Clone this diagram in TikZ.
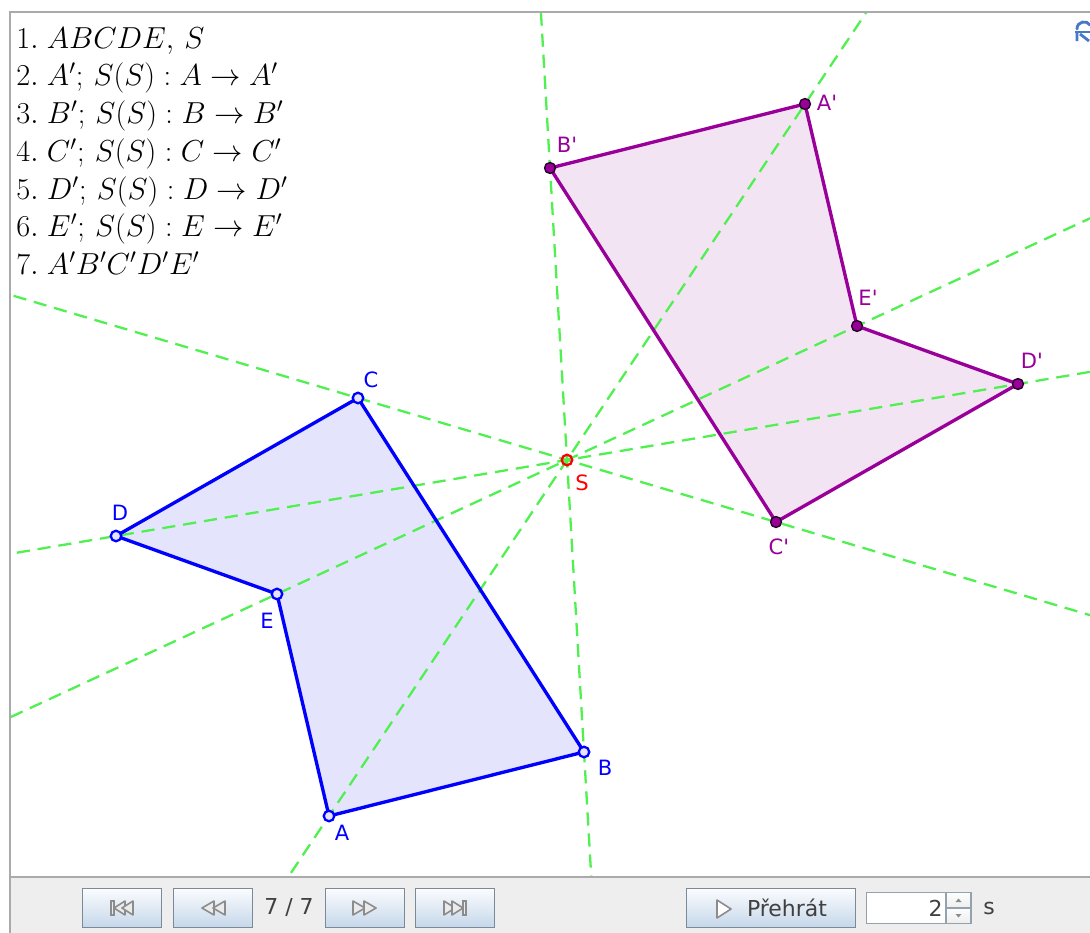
\documentclass[tikz,border=0pt]{standalone}
\usepackage{amsmath,amssymb}
\usepackage{fontspec}
\usepackage{tikz}
\usetikzlibrary{positioning,calc,shadings}
\usepackage{xcolor}
\newfontfamily\ggbfont{DejaVu Sans}
\definecolor{ggbblue}{RGB}{0,0,255}
\definecolor{ggbbluefill}{RGB}{228,228,252}
\definecolor{ggbpurple}{RGB}{153,0,153}
\definecolor{ggbpurplefill}{RGB}{243,228,243}
\definecolor{ggbgreen}{RGB}{80,240,80}
\definecolor{ggbred}{RGB}{255,0,0}
\definecolor{framegray}{RGB}{170,170,170}
\definecolor{barbg}{RGB}{238,238,238}
\definecolor{btnborder}{RGB}{122,138,153}
\definecolor{btntop}{RGB}{252,253,254}
\definecolor{btnbottom}{RGB}{196,214,234}
\definecolor{icongray}{RGB}{140,140,140}
\definecolor{iconfill}{RGB}{235,235,235}
\definecolor{resetblue}{RGB}{70,120,200}

\begin{document}
\begin{tikzpicture}[x=0.02cm,y=-0.02cm,
  ray/.style={ggbgreen,line width=1.3pt,dash pattern=on 7.5pt off 4.5pt},
  orig/.style={draw=ggbblue,line width=1.9pt,line join=round},
  imgpoly/.style={draw=ggbpurple,line width=1.9pt,line join=round},
  opt/.style={circle,draw=ggbblue,fill=ggbbluefill,line width=1.3pt,inner sep=0pt,minimum size=6pt},
  ipt/.style={circle,draw=black!75!ggbpurple,fill=ggbpurple,line width=0.8pt,inner sep=0pt,minimum size=6.2pt},
  cpt/.style={circle,draw=ggbred,line width=1.3pt,inner sep=0pt,minimum size=6pt},
  lbl/.style={font=\ggbfont\fontsize{12}{14}\selectfont,inner sep=0pt},
  steps/.style={align=left,inner sep=0pt,font=\fontsize{16.7}{21.5}\selectfont},
  btn/.style={draw=btnborder,top color=btntop,bottom color=btnbottom,line width=0.6pt,
    minimum width=45.4pt,minimum height=22.7pt,inner sep=0pt},
  field/.style={draw=btnborder!80,fill=white,line width=0.6pt,
    minimum width=45.4pt,minimum height=17.6pt,inner sep=0pt},
  spin/.style={draw=btnborder!80,top color=btntop,bottom color=barbg,line width=0.6pt,
    minimum width=14.2pt,minimum height=8.8pt,inner sep=0pt},
  bartext/.style={font=\ggbfont\fontsize{12.5}{14}\selectfont,text=black!75,inner sep=0pt},
  icon/.style={draw=icongray,fill=iconfill,line width=0.9pt,line join=round}]

\useasboundingbox (0,0) rectangle (1090,933);
\fill[white] (0,0) rectangle (1090,933);

% vertices and centre
\coordinate (A) at (329,816);
\coordinate (B) at (584,752);
\coordinate (C) at (358,398);
\coordinate (D) at (116,536);
\coordinate (E) at (277,594);
\coordinate (S) at (567,460);
\coordinate (Ap) at (805,104);
\coordinate (Bp) at (550,168);
\coordinate (Cp) at (776,522);
\coordinate (Dp) at (1018,384);
\coordinate (Ep) at (857,326);

% fills
\fill[ggbbluefill] (A) -- (B) -- (C) -- (D) -- (E) -- cycle;
\fill[ggbpurplefill] (Ap) -- (Bp) -- (Cp) -- (Dp) -- (Ep) -- cycle;

% lines X X'
\begin{scope}
\clip (10,12) rectangle (1090,877);
\draw[ray] ($(A)!-2!(Ap)$) -- ($(A)!3!(Ap)$);
\draw[ray] ($(B)!-2!(Bp)$) -- ($(B)!3!(Bp)$);
\draw[ray] ($(C)!-3!(Cp)$) -- ($(C)!4!(Cp)$);
\draw[ray] ($(D)!-2!(Dp)$) -- ($(D)!3!(Dp)$);
\draw[ray] ($(E)!-3!(Ep)$) -- ($(E)!4!(Ep)$);
\end{scope}

% polygons
\draw[orig] (A) -- (B) -- (C) -- (D) -- (E) -- cycle;
\draw[imgpoly] (Ap) -- (Bp) -- (Cp) -- (Dp) -- (Ep) -- cycle;

% points
\node[opt] (pA) at (A) {};
\node[opt] (pB) at (B) {};
\node[opt] (pC) at (C) {};
\node[opt] (pD) at (D) {};
\node[opt] (pE) at (E) {};
\node[cpt] (pS) at (S) {};
\node[ipt] (pAp) at (Ap) {};
\node[ipt] (pBp) at (Bp) {};
\node[ipt] (pCp) at (Cp) {};
\node[ipt] (pDp) at (Dp) {};
\node[ipt] (pEp) at (Ep) {};

% labels
\node[lbl,text=ggbblue] (lA) at (342,833) {A};
\node[lbl,text=ggbblue] (lB) at (605,768) {B};
\node[lbl,text=ggbblue] (lC) at (371,380) {C};
\node[lbl,text=ggbblue] (lD) at (120,513) {D};
\node[lbl,text=ggbblue] (lE) at (267,621) {E};
\node[lbl,text=ggbred] (lS) at (582,483) {S};
\node[lbl,text=ggbpurple] (lAp) at (827,103) {A'};
\node[lbl,text=ggbpurple] (lBp) at (567,145) {B'};
\node[lbl,text=ggbpurple] (lCp) at (779,547) {C'};
\node[lbl,text=ggbpurple] (lDp) at (1032,361) {D'};
\node[lbl,text=ggbpurple] (lEp) at (868,298) {E'};

% construction steps
\node[steps,anchor=north west] (steps) at (16,27) {%
$1.\;ABCDE,\,S$\\
$2.\;A';\,S(S):A\rightarrow A'$\\
$3.\;B';\,S(S):B\rightarrow B'$\\
$4.\;C';\,S(S):C\rightarrow C'$\\
$5.\;D';\,S(S):D\rightarrow D'$\\
$6.\;E';\,S(S):E\rightarrow E'$\\
$7.\;A'B'C'D'E'$};

% reset icon
\draw[resetblue,line width=1.6pt,line cap=round] (1077,29) .. controls (1077,21) and (1087,20) .. (1090,25);
\draw[resetblue,line width=1.4pt] (1075,32) -- (1090,32);
\draw[resetblue,line width=1.6pt] (1077,32) -- (1077,41) (1080,34) -- (1089,41);

% frame and toolbar
\fill[barbg] (10,877) rectangle (1090,933);
\draw[framegray,line width=0.6pt] (10,877) -- (1090,877);
\draw[framegray,line width=0.6pt] (10,933) -- (10,12) -- (1090,12);

\node[btn] (first) at (122,908) {};
\node[btn] (prev) at (213,908) {};
\node[bartext] (count) at (289,908) {7 / 7};
\node[btn] (next) at (365,908) {};
\node[btn] (last) at (455,908) {};
\node[btn,minimum width=96.4pt] (play) at (771,908) {};
\node[bartext] (playtext) at (787,908) {Přehrát};
\node[field] (secs) at (906,908) {};
\node[spin] (up) at (958.5,900.25) {};
\node[spin] (down) at (958.5,915.75) {};
\node[bartext,anchor=east] (val) at (943,908) {2};
\node[bartext] (unit) at (989,908) {s};

\begin{scope}[shift={(first.center)}]
\fill[iconfill,draw=icongray,line width=0.9pt] (-11,-7) rectangle (-8,7);
\draw[icon] (3,-7) -- (-8,0) -- (3,7) -- cycle;
\draw[icon] (11,-7) -- (0,0) -- (11,7) -- cycle;
\end{scope}
\begin{scope}[shift={(prev.center)}]
\draw[icon] (1,-7) -- (-11,0) -- (1,7) -- cycle;
\draw[icon] (12,-7) -- (0,0) -- (12,7) -- cycle;
\end{scope}
\begin{scope}[shift={(next.center)}]
\draw[icon] (-12,-7) -- (0,0) -- (-12,7) -- cycle;
\draw[icon] (-1,-7) -- (11,0) -- (-1,7) -- cycle;
\end{scope}
\begin{scope}[shift={(last.center)}]
\draw[icon] (-11,-7) -- (0,0) -- (-11,7) -- cycle;
\draw[icon] (-3,-7) -- (8,0) -- (-3,7) -- cycle;
\fill[iconfill,draw=icongray,line width=0.9pt] (8,-7) rectangle (11,7);
\end{scope}
\draw[icon,fill=white] (717,900) -- (731,909) -- (717,918) -- cycle;
\fill[icongray] (955.5,902) -- (961.5,902) -- (958.5,898.5) -- cycle;
\fill[icongray] (955.5,914) -- (961.5,914) -- (958.5,917.5) -- cycle;
\end{tikzpicture}
\end{document}
